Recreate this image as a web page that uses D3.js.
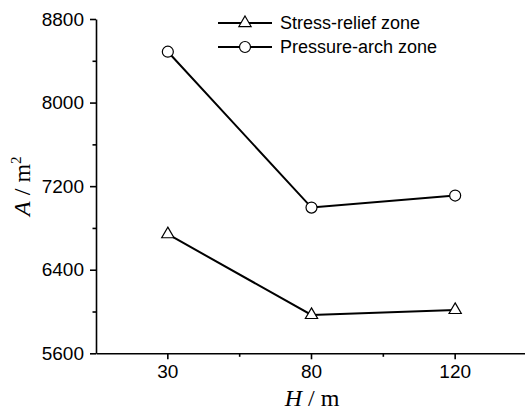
<!DOCTYPE html>
<html>
<head>
<meta charset="utf-8">
<script src="https://cdn.jsdelivr.net/npm/d3@7"></script>
<style>
  body { margin: 0; background: #fff; }
  .axis path, .axis line { stroke: #000; stroke-width: 1.6; }
  .axis text { font-family: "Liberation Sans", Arial, sans-serif; font-size: 19px; fill: #000; }
  .title { font-family: "Liberation Serif", "Times New Roman", serif; font-size: 24px; fill: #000; }
  .legend text { font-family: "Liberation Sans", Arial, sans-serif; font-size: 18px; fill: #000; }
</style>
</head>
<body>
<script>
var width = 525;
var height = 415;

// data
var depths = ["30", "80", "120"];
var stressRelief = [6740, 5967, 6015];
var pressureArch = [8487, 6995, 7110];
var yTicks = [5600, 6400, 7200, 8000, 8800];
var yMinor = [6000, 6800, 7600, 8400];

var mLeft = 96, mRight = 527, mTop = 19, mBottom = 353.3;

var svg = d3.select("body").append("svg")
  .attr("width", width)
  .attr("height", height);

var x = d3.scaleBand()
  .domain(depths)
  .range([mLeft, mRight])
  .padding(0);

var y = d3.scaleLinear()
  .domain([5600, 8800])
  .range([mBottom, mTop]);

function cx(d, i) { return x(depths[i]) + x.bandwidth() / 2; }

// x axis
svg.append("g")
  .attr("class", "axis")
  .attr("transform", "translate(0," + mBottom + ")")
  .call(d3.axisBottom(x).tickSizeInner(6).tickSizeOuter(0).tickPadding(5));

// minor x ticks at band boundaries
svg.append("g")
  .attr("class", "axis")
  .selectAll("line")
  .data(depths.slice(1))
  .enter().append("line")
    .attr("x1", function(d) { return x(d); })
    .attr("x2", function(d) { return x(d); })
    .attr("y1", mBottom)
    .attr("y2", mBottom + 3.5);

// y axis
svg.append("g")
  .attr("class", "axis")
  .attr("transform", "translate(" + mLeft + ",0)")
  .call(d3.axisLeft(y).tickValues(yTicks).tickSizeInner(6).tickSizeOuter(0).tickPadding(6).tickFormat(d3.format("d")));

svg.append("g")
  .attr("class", "axis")
  .attr("transform", "translate(" + mLeft + ",0)")
  .call(d3.axisLeft(y).tickValues(yMinor).tickSize(3.5).tickFormat(""))
  .select(".domain").remove();

// axis titles
svg.append("text")
  .attr("class", "title")
  .attr("transform", "translate(30," + ((mTop + mBottom) / 2) + ") rotate(-90)")
  .attr("text-anchor", "middle")
  .html('<tspan font-style="italic">A</tspan> / m<tspan dy="-9" font-size="15">2</tspan>');

svg.append("text")
  .attr("class", "title")
  .attr("x", (mLeft + 524) / 2 + 2)
  .attr("y", 406)
  .attr("text-anchor", "middle")
  .html('<tspan font-style="italic">H</tspan> / m');

var line = d3.line()
  .x(cx)
  .y(function(d) { return y(d); });

function drawSeries(values, shape) {
  svg.append("path")
    .datum(values)
    .attr("fill", "none")
    .attr("stroke", "#000")
    .attr("stroke-width", 2)
    .attr("d", line);

  svg.append("g").selectAll("path")
    .data(values)
    .enter().append("path")
      .attr("transform", function(d, i) { return "translate(" + cx(d, i) + "," + y(d) + ")"; })
      .attr("d", shape)
      .attr("fill", "#fff")
      .attr("stroke", "#000")
      .attr("stroke-width", 1.2);
}

var triangle = d3.symbol().type(d3.symbolTriangle).size(65)();
var circle = d3.symbol().type(d3.symbolCircle).size(95)();

drawSeries(stressRelief, triangle);
drawSeries(pressureArch, circle);

// legend
var legendItems = [
  {name: "Stress-relief zone", shape: triangle, y: 23},
  {name: "Pressure-arch zone", shape: circle, y: 47}
];

var legend = svg.append("g").attr("class", "legend")
  .selectAll("g")
  .data(legendItems)
  .enter().append("g")
    .attr("transform", function(d) { return "translate(218," + d.y + ")"; });

legend.append("line")
  .attr("x1", 0).attr("x2", 54)
  .attr("stroke", "#000").attr("stroke-width", 2);

legend.append("path")
  .attr("transform", "translate(27,0)")
  .attr("d", function(d) { return d.shape; })
  .attr("fill", "#fff").attr("stroke", "#000").attr("stroke-width", 1.2);

legend.append("text")
  .attr("x", 62)
  .attr("dy", "0.35em")
  .text(function(d) { return d.name; });
</script>
</body>
</html>
